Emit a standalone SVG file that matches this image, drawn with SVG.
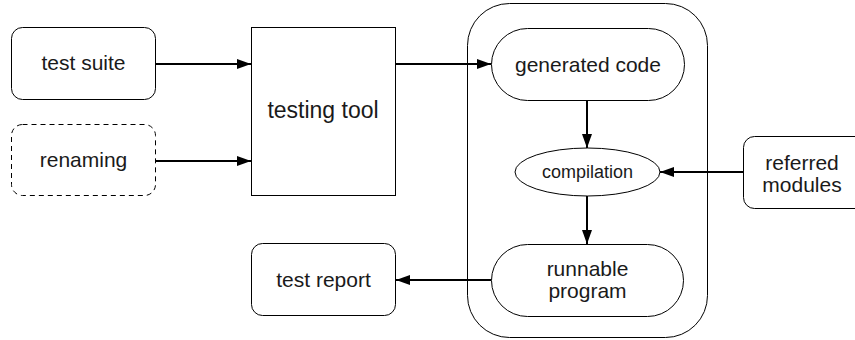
<svg xmlns="http://www.w3.org/2000/svg" width="855" height="340" viewBox="0 0 855 340">
<defs>
<marker id="arr" viewBox="0 0 14 10" refX="14" refY="5" markerWidth="14" markerHeight="10" markerUnits="userSpaceOnUse" orient="auto">
<path d="M0,0 L14,5 L0,10 z" fill="#000"/>
</marker>
<style>
.box{fill:#fff;stroke:#000;stroke-width:1}
.t{font-family:"Liberation Sans",Arial,sans-serif;font-size:21px;fill:#1a1a1a;text-anchor:middle}
.c{fill:none;stroke:#000;stroke-width:2;marker-end:url(#arr)}
</style>
</defs>
<rect width="855" height="340" fill="#fff"/>
<g id="container"><rect class="box" x="467.5" y="3.5" width="240" height="334" rx="42"/></g>
<g id="test-suite"><rect class="box" x="11.5" y="27.5" width="144" height="72" rx="11"/><text class="t" x="83.5" y="70">test suite</text></g>
<g id="renaming"><rect class="box" x="11.5" y="124.5" width="144" height="71" rx="11" stroke-dasharray="5,4"/><text class="t" x="83.5" y="167">renaming</text></g>
<g id="testing-tool"><rect class="box" x="251.5" y="27.5" width="144" height="168"/><text class="t" x="323" y="118" style="font-size:23px">testing tool</text></g>
<g id="generated-code"><rect class="box" x="491.5" y="28.5" width="193" height="72" rx="36"/><text class="t" x="588" y="72">generated code</text></g>
<g id="compilation"><ellipse class="box" cx="587.5" cy="172" rx="72.5" ry="24"/><text class="t" x="587.5" y="178" style="font-size:18px">compilation</text></g>
<g id="referred-modules"><rect class="box" x="743.5" y="136.5" width="130" height="72" rx="11"/><text class="t" x="802" y="170">referred</text><text class="t" x="802" y="192">modules</text></g>
<g id="runnable-program"><rect class="box" x="491.5" y="244.5" width="192" height="72" rx="36"/><text class="t" x="587.5" y="276">runnable</text><text class="t" x="587.5" y="298">program</text></g>
<g id="test-report"><rect class="box" x="251.5" y="243.5" width="144" height="72" rx="11"/><text class="t" x="323.5" y="287">test report</text></g>
<g id="connectors">
<line class="c" x1="156" y1="64" x2="251" y2="64"/>
<line class="c" x1="156" y1="161" x2="251" y2="161"/>
<line class="c" x1="396" y1="64" x2="491" y2="64"/>
<line class="c" x1="587" y1="101" x2="587" y2="148"/>
<line class="c" x1="743" y1="172" x2="660" y2="172"/>
<line class="c" x1="587" y1="196" x2="587" y2="244"/>
<line class="c" x1="491" y1="280" x2="396" y2="280"/>
</g>
</svg>
